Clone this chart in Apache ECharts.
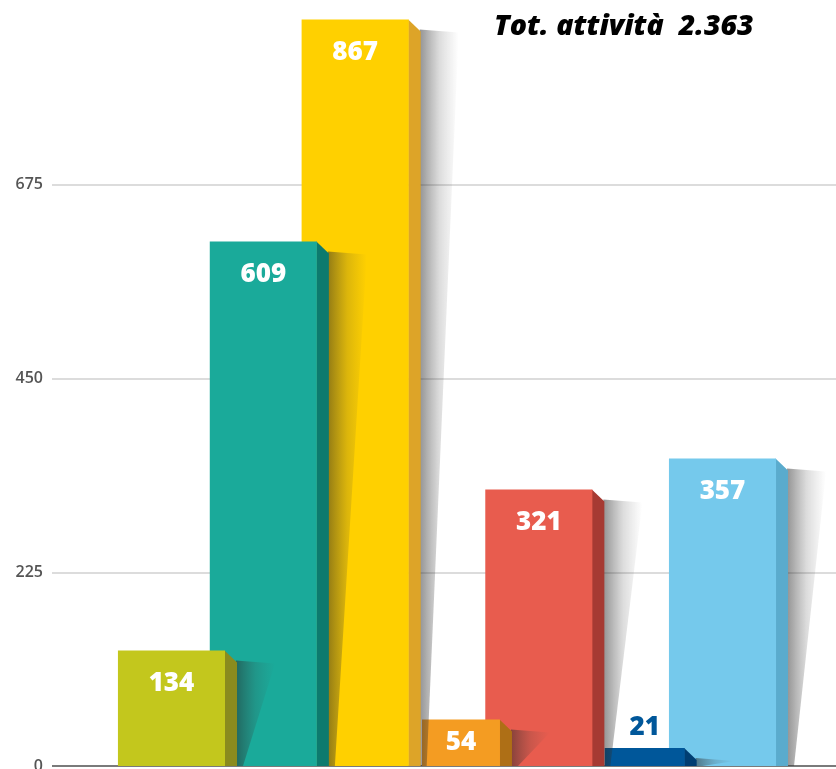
<!DOCTYPE html>
<html>
<head>
<meta charset="utf-8">
<script src="https://cdn.jsdelivr.net/npm/echarts@6/dist/echarts.min.js"></script>
<style>
html,body{margin:0;padding:0;background:#fff;}
#chart{width:836px;height:769px;}
</style>
</head>
<body>
<div id="chart"></div>
<script>
// ---- data ----
const categories = ['1', '2', '3', '4', '5', '6', '7'];
const values = [134, 609, 867, 54, 321, 21, 357];
const yTicks = [0, 225, 450, 675];
const totalLabel = 'Tot. attività  2.363';

// ---- styles ----
const frontColors = ['#C3C71D', '#1AAA9A', '#FFD000', '#F49C22', '#E85C4E', '#00579A', '#75C9EC'];
const sideColors  = ['#8A8B1E', '#0D7A6E', '#DDA428', '#AE6F16', '#A63A33', '#003E72', '#5AABCD'];
// bar geometry in category-step units: [leftOffset, rightOffset]
const barExtent = [[-0.583, 0.583], [-0.583, 0.583], [-0.583, 0.583], [-0.272, 0.577],
                   [-0.583, 0.583], [-0.283, 0.588], [-0.583, 0.583]];

const chart = echarts.init(document.getElementById('chart'), null, {renderer: 'canvas'});
const N = values.length;

function renderItem(params, api) {
  const i = params.dataIndex;
  const idx = api.value(0);
  const val = api.value(1);
  const c = api.coord([idx, val]);
  const base = api.coord([idx, 0]);
  const step = api.size([1, 0])[0];
  const x0 = c[0] + barExtent[i][0] * step;
  const x1 = c[0] + barExtent[i][1] * step;
  const top = c[1];
  const bottom = base[1];
  const h = bottom - top;
  const d = 12;
  const zb = (N - i) * 10;
  const children = [];
  // shadow
  const sx = x1 + d;
  children.push({
    type: 'polygon',
    z2: zb - 1,
    shape: {points: [[sx - 1, top + 10], [sx + 38, top + 13], [sx + 6, bottom], [sx - 1, bottom]]},
    style: {
      fill: new echarts.graphic.LinearGradient(0, 0, 1, 0, [
        {offset: 0, color: 'rgba(40,40,40,0.5)'},
        {offset: 0.5, color: 'rgba(60,60,60,0.18)'},
        {offset: 1, color: 'rgba(80,80,80,0)'}
      ])
    },
    silent: true
  });
  // side face
  children.push({
    type: 'polygon',
    z2: zb,
    shape: {points: [[x1 - 0.5, top], [x1 + d, top + d], [x1 + d, bottom], [x1 - 0.5, bottom]]},
    style: {fill: sideColors[i]}
  });
  // front face
  children.push({
    type: 'rect',
    z2: zb + 1,
    shape: {x: x0, y: top, width: x1 - x0, height: h},
    style: {fill: frontColors[i]}
  });
  // value label
  const inside = h > 40;
  children.push({
    type: 'text',
    z2: zb + 2,
    style: {
      text: String(val),
      x: (x0 + x1) / 2,
      y: inside ? top + Math.min(33, h / 2) : top - 20,
      align: 'center',
      verticalAlign: 'middle',
      fill: inside ? '#ffffff' : frontColors[i],
      font: '800 26px "Open Sans", Lato, sans-serif'
    }
  });
  return {type: 'group', children: children};
}

chart.setOption({
  animation: false,
  grid: {left: 52, right: 0, top: -9, bottom: 3, containLabel: false, outerBoundsMode: 'none'},
  xAxis: {
    type: 'value',
    min: -1.301,
    max: 7.236,
    show: false
  },
  yAxis: {
    type: 'value',
    min: 0,
    max: 900,
    interval: 225,
    axisLine: {show: false},
    axisTick: {show: false},
    axisLabel: {
      margin: 9,
      color: '#555',
      fontSize: 16,
      fontWeight: 600,
      fontFamily: '"Open Sans", sans-serif',
      formatter: function (v) { return yTicks.indexOf(v) >= 0 ? String(v) : ''; }
    },
    splitLine: {lineStyle: {color: '#dcdcdc', width: 2}}
  },
  series: [
    {
      type: 'custom',
      renderItem: renderItem,
      data: values.map((v, i) => ({name: categories[i], value: [i, v]})),
      z: 3
    },
    {
      type: 'line',
      data: [[-1.301, 0], [7.236, 0]],
      symbol: 'none',
      lineStyle: {color: '#7a7a7a', width: 2},
      z: 2,
      silent: true
    }
  ],
  graphic: [{
    type: 'text',
    x: 494,
    y: 27,
    style: {
      text: totalLabel,
      fill: '#000',
      verticalAlign: 'middle',
      font: 'italic 800 28.5px "Open Sans", Lato, sans-serif'
    }
  }]
});
</script>
</body>
</html>
